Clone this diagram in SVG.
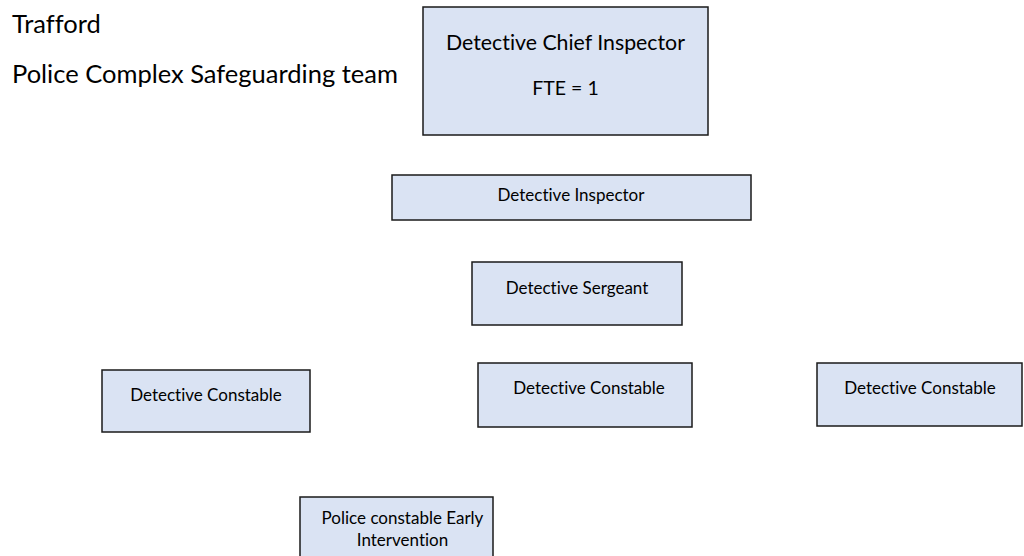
<svg xmlns="http://www.w3.org/2000/svg" width="1024" height="556" viewBox="0 0 1024 556">
<style>
.box{fill:#DAE3F3;stroke:#1a1a1a;stroke-width:1.5}
text{font-variant-ligatures:none;font-feature-settings:"liga" 0,"dlig" 0}
.t{font-family:Lato,"Open Sans","Liberation Sans",sans-serif;fill:#000;text-anchor:middle}
.h{font-family:Lato,"Open Sans","Liberation Sans",sans-serif;fill:#000;font-size:25.5px}
.s{font-size:17px}
</style>
<rect width="1024" height="556" fill="#fff"/>
<g id="title">
<text class="h" x="12" y="33">Trafford</text>
<text class="h" x="12" y="83">Police Complex Safeguarding team</text>
</g>
<g id="connectors"/>
<g id="dci">
<rect class="box" x="423" y="7" width="285" height="128"/>
<text class="t" x="565.5" y="50" font-size="21.3">Detective Chief Inspector</text>
<text class="t" x="565.5" y="95" font-size="19.5" fill="#262626">FTE = 1</text>
</g>
<g id="di">
<rect class="box" x="392" y="175" width="359" height="45"/>
<text class="t s" x="571" y="201">Detective Inspector</text>
</g>
<g id="ds">
<rect class="box" x="472" y="262" width="210" height="63"/>
<text class="t s" x="577" y="294">Detective Sergeant</text>
</g>
<g id="dc1">
<rect class="box" x="102" y="370" width="208" height="62"/>
<text class="t s" x="206" y="401">Detective Constable</text>
</g>
<g id="dc2">
<rect class="box" x="478" y="363" width="214" height="64"/>
<text class="t s" x="589" y="394">Detective Constable</text>
</g>
<g id="dc3">
<rect class="box" x="817" y="363" width="205" height="63"/>
<text class="t s" x="920" y="394">Detective Constable</text>
</g>
<g id="pc">
<rect class="box" x="300" y="497" width="193" height="70"/>
<text class="t s" x="402.5" y="524">Police constable Early</text>
<text class="t s" x="402.5" y="546">Intervention</text>
</g>
</svg>
